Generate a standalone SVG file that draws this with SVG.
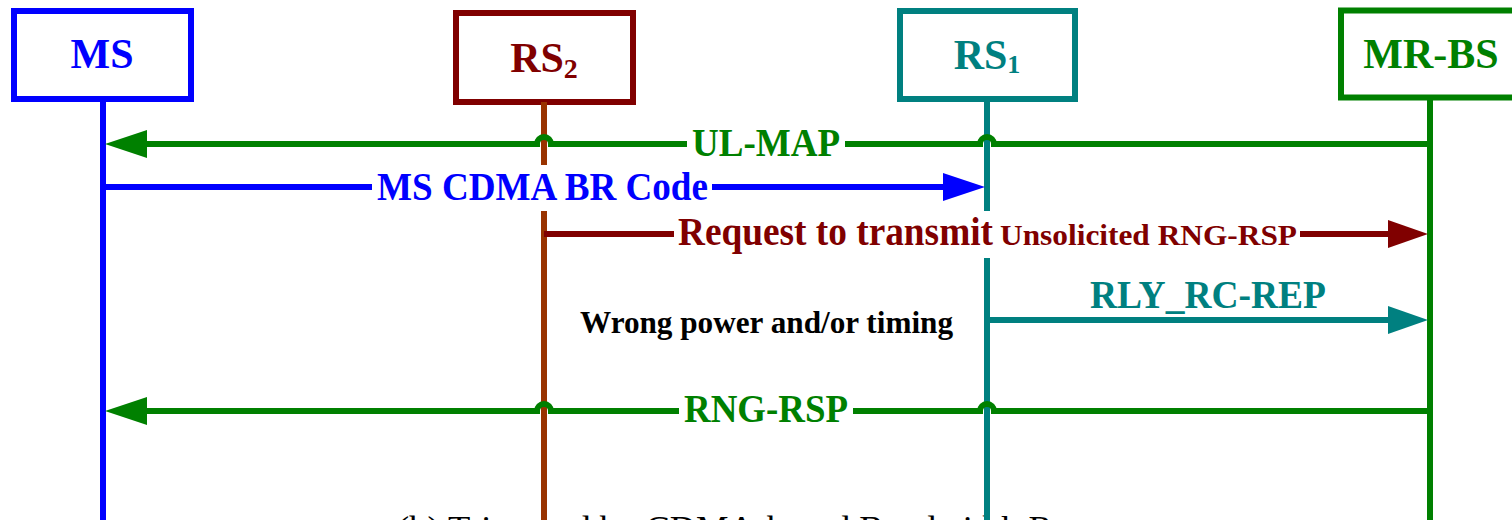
<svg xmlns="http://www.w3.org/2000/svg" width="1512" height="520" viewBox="0 0 1512 520">
<style>
text{font-family:"Liberation Serif","Times New Roman",serif;font-weight:bold}
.box{fill:#fff;stroke-width:6}
.life{stroke-width:6;fill:none}
.msg{stroke-width:6;fill:none}
.bg{fill:#fff}
.node{font-size:42px;text-anchor:middle}
.lbl{font-size:39px}
.blue{stroke:#0000ff}
.dred{stroke:#800000}
.brown{stroke:#993300}
.teal{stroke:#008080}
.green{stroke:#008000}
.fblue{fill:#0000ff}
.fdred{fill:#800000}
.fteal{fill:#008080}
.fgreen{fill:#008000}
</style>
<rect width="1512" height="520" fill="#fff"/>
<text x="397" y="541" font-size="36.5" style="font-weight:normal" fill="#000">(b) Triggered by CDMA-based Bandwidth Request</text>
<g id="MS">
<rect class="box blue" x="14" y="11" width="177" height="88"/>
<text class="node fblue" x="102" y="68">MS</text>
<line class="life blue" x1="103" y1="99" x2="103" y2="520"/>
</g>
<g id="RS2">
<rect class="box dred" x="456" y="13" width="177" height="89"/>
<text class="node fdred" x="544" y="72">RS<tspan font-size="28" dy="6">2</tspan></text>
<line class="life brown" x1="544" y1="102" x2="544" y2="520"/>
</g>
<g id="RS1">
<rect class="box teal" x="900" y="11" width="175" height="88"/>
<text class="node fteal" x="987" y="69">RS<tspan font-size="26" dy="4">1</tspan></text>
<line class="life teal" x1="987" y1="99" x2="987" y2="520"/>
</g>
<g id="MR-BS">
<rect class="box green" x="1341" y="10.5" width="177" height="87"/>
<text class="node fgreen" x="1431" y="68">MR-BS</text>
<line class="life green" x1="1430" y1="97" x2="1430" y2="520"/>
</g>
<g id="connectors">
<path class="msg green" d="M1430,144 H994 A7,7 0 0 0 980,144 H551 A7,7 0 0 0 537,144 H146"/>
<polygon class="fgreen" points="105,144 147,130 147,158"/>
<rect class="bg" x="687" y="126" width="158" height="36"/>
<text class="lbl fgreen" x="692" y="156" textLength="148" lengthAdjust="spacingAndGlyphs">UL-MAP</text>

<path class="msg blue" d="M103,187 H944"/>
<polygon class="fblue" points="985,187 943,173 943,201"/>
<rect class="bg" x="372" y="165" width="340" height="46"/>
<text class="lbl fblue" x="377" y="200" font-size="40" textLength="331" lengthAdjust="spacingAndGlyphs">MS CDMA BR Code</text>

<path class="msg dred" d="M544,234 H1389"/>
<polygon class="fdred" points="1428,234 1388,220 1388,248"/>
<rect class="bg" x="674" y="211" width="626" height="47"/>
<text class="lbl fdred" x="678" y="245" textLength="315" lengthAdjust="spacingAndGlyphs">Request to transmit</text>
<text class="fdred" x="1000" y="245" font-size="29" textLength="297" lengthAdjust="spacingAndGlyphs">Unsolicited RNG-RSP</text>

<path class="msg teal" d="M987,320 H1389"/>
<polygon class="fteal" points="1428,320 1388,306 1388,334"/>
<text class="lbl fteal" x="1090" y="308" textLength="236" lengthAdjust="spacingAndGlyphs">RLY_RC-REP</text>

<text x="580" y="333" font-size="31" fill="#000" textLength="373" lengthAdjust="spacingAndGlyphs">Wrong power  and/or timing</text>

<path class="msg green" d="M1430,411 H994 A7,7 0 0 0 980,411 H551 A7,7 0 0 0 537,411 H146"/>
<polygon class="fgreen" points="105,411 147,397 147,425"/>
<rect class="bg" x="679" y="393" width="174" height="36"/>
<text class="lbl fgreen" x="684" y="422" textLength="164" lengthAdjust="spacingAndGlyphs">RNG-RSP</text>
</g>
</svg>
